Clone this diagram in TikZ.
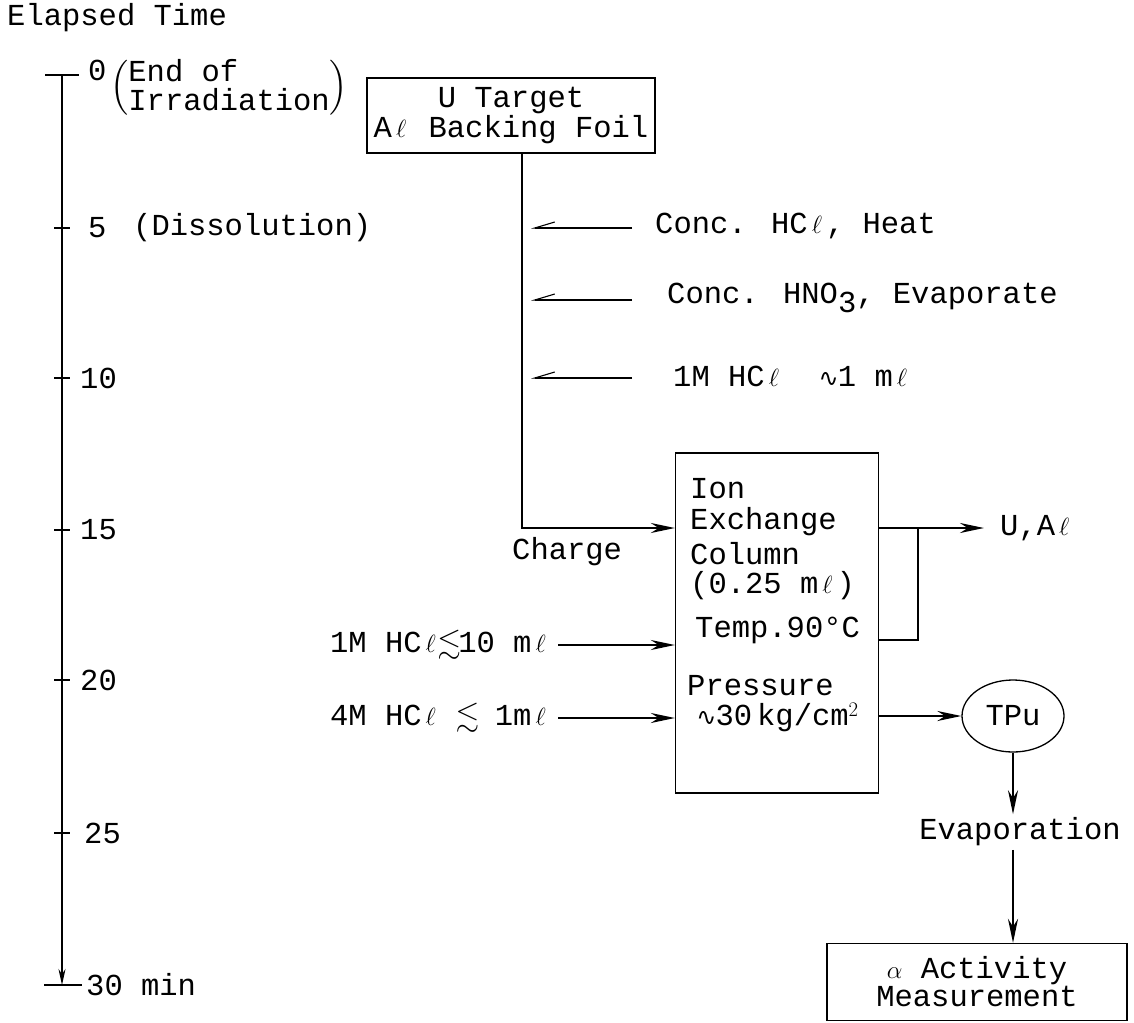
\documentclass[tikz,border=0pt]{standalone}
\usepackage{amssymb}
\usepackage{fontspec}
\setmainfont{Liberation Mono}
\newfontfamily\djv{DejaVu Sans}
\newcommand{\ltr}{\makebox[0.6em]{$\ell$}}
\newcommand{\lsim}{\makebox[0.6em]{$\lesssim$}}
\newcommand{\wav}{\makebox[0.6em]{\djv\fontsize{24}{24}\selectfont ∿}}
\newcommand{\sbt}{\raisebox{-0.28em}{3}}
\usetikzlibrary{arrows.meta,shapes.geometric}
\begin{document}
\begin{tikzpicture}[x=1pt,y=-1pt,
  every node/.style={font=\fontsize{30.5}{28}\selectfont},
  lbl/.style={anchor=west,inner sep=0pt},
  lble/.style={anchor=east,inner sep=0pt},
  boxs/.style={draw,line width=1.3pt,inner sep=0pt},
  flow/.style={line width=2.5pt,-{Stealth[length=24pt,width=10pt]}},
  harp/.style={line width=1.1pt,-{Straight Barb[harpoon,swap,length=20pt,width=12pt]}},
  axisl/.style={line width=1.6pt},
  tickl/.style={line width=1.2pt}]
\useasboundingbox (0,0) rectangle (1134,1022);

% time axis
\node[lbl] (title) at (7,18) {Elapsed Time};
\coordinate (t0) at (62,75);
\coordinate (t30) at (62,985);
\draw[axisl,-{Stealth[length=16pt,width=7pt]}] (t0) -- (t30);
\draw[tickl] (45,75) -- (79,75);
\draw[tickl] (44,985) -- (82,985);
\foreach \y in {228,378,530,680,833} \draw[tickl] (54,\y) -- (70,\y);
\node[lbl] (l0) at (88,70) {0};
\node[lbl] (eoi) at (110,88) {$\left(\hbox{\def\arraystretch{0.8}\begin{tabular}{@{}l@{}}End of\\Irradiation\end{tabular}}\right)$};
\node[lbl] (l5) at (88,228) {5};
\node[lbl] (diss) at (133,228) {(Dissolution)};
\node[lbl] (l10) at (80,378) {10};
\node[lbl] (l15) at (80,530) {15};
\node[lbl] (l20) at (80,680) {20};
\node[lbl] (l25) at (84,833) {25};
\node[lbl] (l30) at (86,985) {30 min};

% target box
\node[boxs,minimum width=288pt,minimum height=75pt,align=center] (tgt) at (511,115.5) {U Target\\A\ltr{} Backing Foil};

% reagent additions
\node[lbl] (r1) at (655,226) {Conc. HC\ltr, Heat};
\node[lbl] (r2) at (667,298) {Conc. HNO\sbt, Evaporate};
\node[lbl] (r3) at (673,376) {1M HC\ltr\ \ \wav1 m\ltr};
\coordinate (h1s) at (632,228); \coordinate (h1e) at (531,228);
\coordinate (h2s) at (632,300); \coordinate (h2e) at (531,300);
\coordinate (h3s) at (632,378); \coordinate (h3e) at (531,378);
\draw[harp] (h1s) -- (h1e);
\draw[harp] (h2s) -- (h2e);
\draw[harp] (h3s) -- (h3e);

% ion exchange column
\node[boxs,minimum width=203pt,minimum height=340pt] (col) at (777,623) {};
\node[lbl] (c1) at (690,489) {Ion};
\node[lbl] (c2) at (690,522) {Exchange};
\node[lbl] (c3) at (690,554) {Column};
\node[lbl] (c4) at (690,586) {(0.25 m\ltr)};
\node[lbl] (c5) at (695,630) {Temp.90°C};
\node[lbl] (c6) at (687,686) {Pressure};
\node[lbl] (c7) at (697,717) {\wav30\,kg/cm$^2$};

\draw[flow] ([xshift=11pt]tgt.south) |- ([yshift=95pt]col.west);
\node[lbl] (chg) at (512,552) {Charge};

\node[lble] (in1) at (550,645) {1M HC\ltr\lsim10 m\ltr};
\node[lble] (in2) at (550,718) {4M HC\ltr{} \lsim{} 1m\ltr};
\draw[flow] ([xshift=8pt]in1.east) -- (col.west |- in1.east);
\draw[flow] ([xshift=8pt]in2.east) -- (col.west |- in2.east);

% outputs
\node[lbl] (ual) at (1000,528) {U,A\ltr};
\draw[flow] (col.east |- ual.west) -- ([xshift=-16pt]ual.west);
\coordinate (lp) at (918,640);
\draw[line width=1.8pt] (col.east |- lp) -- (lp) -- (lp |- ual.west);

\node[draw,ellipse,line width=1.3pt,minimum width=102pt,minimum height=72pt,inner sep=0pt] (tpu) at (1013,716) {TPu};
\draw[flow] (col.east |- tpu.west) -- (tpu.west);

\node (evap) at (1020,832) {Evaporation};
\draw[flow] (tpu.south) -- (evap.north -| tpu.south);

\node[boxs,minimum width=300pt,minimum height=77pt,align=center] (meas) at (977,982) {$\alpha$ Activity\\Measurement};
\draw[flow] (evap.south -| tpu.south) -- (meas.north -| tpu.south);
\end{tikzpicture}
\end{document}
